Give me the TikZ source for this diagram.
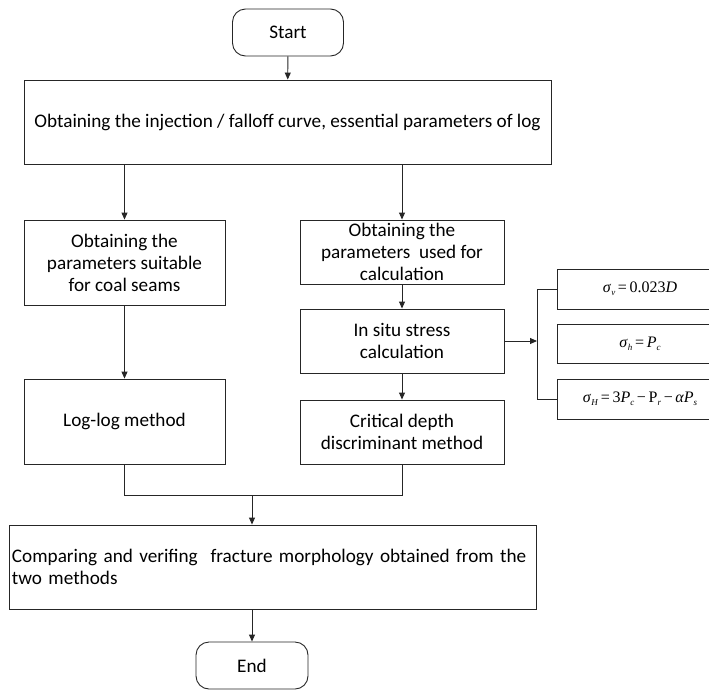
\documentclass[tikz,border=0pt]{standalone}
\usepackage{fontspec}
\setmainfont{Carlito}
\newfontfamily\fserif{Liberation Serif}
\usetikzlibrary{arrows.meta}
\newcommand\fsub[1]{\raisebox{-0.45ex}{\fontsize{9}{9}\selectfont\textit{#1}}}
\begin{document}
\begin{tikzpicture}[x=1pt,y=-1pt,
  box/.style={draw=black!85, line width=0.9pt, inner sep=0pt, align=center,
    font=\fontsize{19.2}{22}\selectfont},
  term/.style={box, rounded corners=13pt},
  fbox/.style={draw=black!85, line width=0.9pt, inner sep=0pt,
    minimum width=166pt, font=\fserif\fontsize{16}{18}\selectfont},
  arr/.style={draw=black!85, line width=0.9pt, -{Triangle[length=7pt,width=6pt]}},
  ln/.style={draw=black!85, line width=0.9pt}]
\useasboundingbox (0,0) rectangle (709,691);
\clip (0,0) rectangle (709,691);

\node[term, minimum width=111pt, minimum height=47pt] (start) at (288,32.5) {Start};
\node[box, minimum width=527pt, minimum height=84pt] (box1) at (287.5,122)
  {Obtaining the injection / falloff curve, essential parameters of log};
\node[box, minimum width=201pt, minimum height=85pt] (A) at (124.5,262.5)
  {Obtaining the\\parameters suitable\\for coal seams};
\node[box, minimum width=204pt, minimum height=64pt] (B) at (402,252)
  {Obtaining the\\parameters\ \ used for\\calculation};
\node[box, minimum width=204pt, minimum height=64pt] (C) at (402,341)
  {In situ stress\\calculation};
\node[box, minimum width=204pt, minimum height=64pt] (D) at (402,432)
  {Critical depth\\discriminant method};
\node[box, minimum width=201pt, minimum height=85pt] (E) at (124.5,421.5)
  {Log-log method};
\node[box, minimum width=527pt, minimum height=84pt, text width=521pt, align=left] (F) at (272.5,567)
  {Comparing and verifing\ \ fracture morphology obtained from the\\two methods};
\node[term, minimum width=112pt, minimum height=47pt] (end) at (252,665.5) {End};

\node[fbox, minimum height=40pt] (f1) at (640,289)
  {\textit{σ}\fsub{v}\,=\,0.023\textit{D}};
\node[fbox, minimum height=39pt] (f2) at (640,343.5)
  {\textit{σ}\fsub{h}\,=\,\textit{P}\fsub{c}\hspace{38pt}};
\node[fbox, minimum height=40pt] (f3) at (640,399)
  {\textit{σ}\fsub{H}\,=\,3\textit{P}\fsub{c}\,−\,P\fsub{r}\,−\,\textit{αP}\fsub{s}\hspace{-2pt}};

\draw[arr] (start) -- (box1);
\draw[arr] (box1.south -| A.north) -- (A.north);
\draw[arr] (box1.south -| B.north) -- (B.north);
\draw[arr] (A) -- (E);
\draw[arr] (B) -- (C);
\draw[arr] (C) -- (D);

\coordinate (jl) at (124.5,495);
\coordinate (jr) at (402,495);
\coordinate (jm) at (252,495);
\draw[ln] (E.south) -- (jl) -- (jr) -- (D.south);
\draw[arr] (jm) -- (jm |- F.north);
\draw[arr] (F.south -| end.north) -- (end.north);

\coordinate (bt) at (537,289);
\coordinate (bb) at (537,399);
\coordinate (bm) at (537,341);
\draw[ln] (f1.west) -- (bt) -- (bb) -- (f3.west);
\draw[arr] (C.east) -- (bm);
\end{tikzpicture}
\end{document}
